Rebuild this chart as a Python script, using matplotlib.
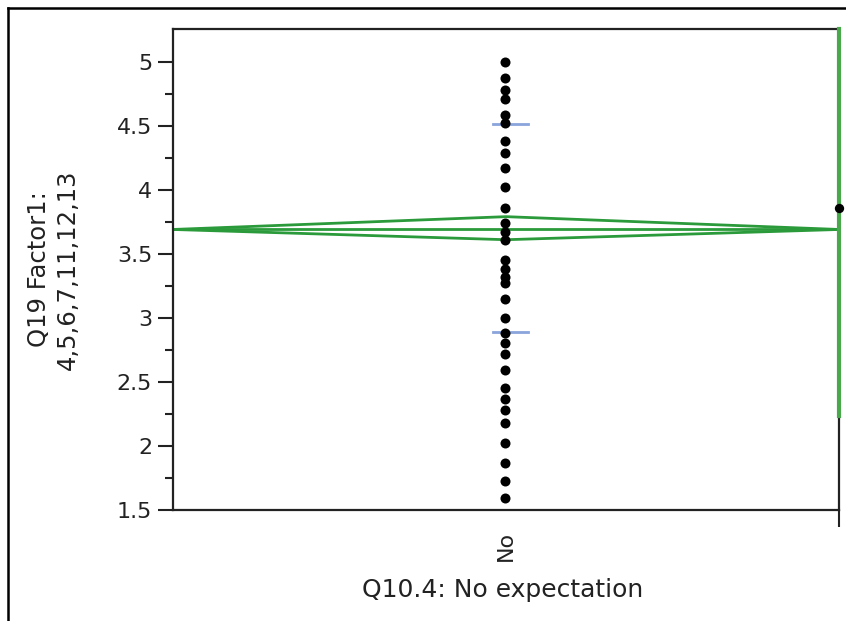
import numpy as np
import matplotlib
matplotlib.use("Agg")
import matplotlib.pyplot as plt
from matplotlib.lines import Line2D

plt.rcParams['font.family'] = ['DejaVu Sans']

# data
group = "No"
scores = [5.00, 4.87, 4.78, 4.71, 4.58, 4.52, 4.38, 4.29, 4.17, 4.02,
          3.86, 3.74, 3.67, 3.61, 3.45, 3.38, 3.32, 3.27, 3.15, 3.00,
          2.88, 2.80, 2.72, 2.59, 2.45, 2.37, 2.28, 2.18, 2.02, 1.87,
          1.73, 1.59]
mean_val = 3.69
ci_low, ci_high = 3.61, 3.79          # mean diamond
sd_lines = [4.51, 2.89]               # mean +/- 1 sd
side_dot = 3.86                       # point at right edge
side_bar_low = 2.23                   # green bar at right edge
y_ticks = [1.5, 2, 2.5, 3, 3.5, 4, 4.5, 5]
y_tick_labels = ["1.5", "2", "2.5", "3", "3.5", "4", "4.5", "5"]

fig = plt.figure(figsize=(8.46, 6.21), dpi=100)
ax = fig.add_axes([173/846, 1-510/621, (839-173)/846, (510-29)/621])

ymax = 5.255
ax.set_xlim(-0.5, 0.5)
ax.set_ylim(1.5, ymax)

green = '#2a9a3a'
# mean diamond
ax.plot([-0.5, 0, 0.5], [mean_val, ci_high, mean_val], color=green, lw=2, zorder=2)
ax.plot([-0.5, 0, 0.5], [mean_val, ci_low, mean_val], color=green, lw=2, zorder=2)
ax.plot([-0.5, 0.5], [mean_val, mean_val], color=green, lw=2, zorder=2)

# std dev lines
for v in sd_lines:
    ax.plot([-0.02, 0.033], [v, v], color='#8aa4dc', lw=2, zorder=2)

# points
ax.scatter(np.zeros(len(scores)) - 0.002, scores, s=52, color='black', zorder=3, linewidths=0)

# right edge bar and dot
ax.plot([0.5, 0.5], [ymax, side_bar_low], color='#49a84c', lw=3, zorder=4, clip_on=False)
ax.scatter([0.5], [side_dot], s=45, color='black', zorder=5, clip_on=False, linewidths=0)

# axes styling
for sp in ax.spines.values():
    sp.set_linewidth(1.6)
    sp.set_color('#222222')

ax.set_yticks(y_ticks, labels=y_tick_labels)
ax.set_yticks(np.arange(1.75, 5.1, 0.5), minor=True)
ax.tick_params(axis='y', which='major', length=11, width=1.5, labelsize=16, pad=4, colors='#222222')
ax.tick_params(axis='y', which='minor', length=6, width=1.5, colors='#222222')

ax.set_xticks([0, 0.5], labels=[group, ""])
ax.tick_params(axis='x', which='major', length=12, width=1.5, labelsize=16, pad=3, colors='#222222')
for lab in ax.get_xticklabels():
    lab.set_rotation(90)
ax.xaxis.get_major_ticks()[0].tick1line.set_visible(False)

ax.text(-0.18, 0.5, "Q19 Factor1:\n4,5,6,7,11,12,13", transform=ax.transAxes,
        rotation=90, ha='center', va='center', fontsize=17.5, color='#222222',
        multialignment='center', linespacing=1.25)
fig.text(503/846, 1-590/621, "Q10.4: No expectation", ha='center', va='center',
         fontsize=18, color='#222222')

# outer frame (left and top)
fig.add_artist(Line2D([8/846, 8/846], [0, 1-8/621], transform=fig.transFigure, color='black', lw=1.8))
fig.add_artist(Line2D([8/846, 1], [1-8/621, 1-8/621], transform=fig.transFigure, color='black', lw=1.8))

fig.savefig("out.png", dpi=100)
